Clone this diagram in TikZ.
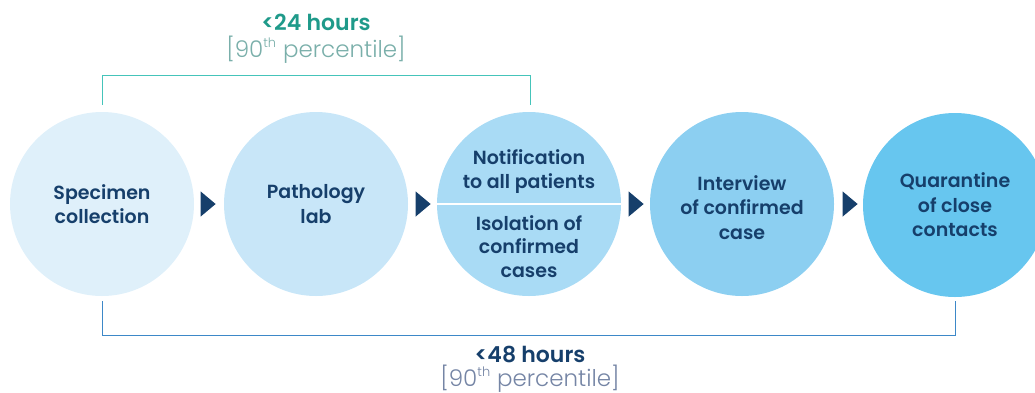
\documentclass[tikz,border=0pt]{standalone}
\usepackage{fontspec}
\usetikzlibrary{shapes.geometric,calc}
\setmainfont{Poppins}
\IfFontExistsTF{Poppins Medium}{\newfontfamily\pmed{Poppins Medium}}{\newfontfamily\pmed{Poppins}}
\IfFontExistsTF{Poppins SemiBold}{\newfontfamily\pbold{Poppins SemiBold}}{\newfontfamily\pbold{Poppins}[BoldFont={* Bold}]}
\IfFontExistsTF{Poppins Light}{\newfontfamily\plight{Poppins Light}}{\newfontfamily\plight{Poppins}}
\definecolor{navy}{HTML}{163F6B}
\definecolor{cA}{HTML}{DFF0FA}
\definecolor{cB}{HTML}{C8E6F8}
\definecolor{cC}{HTML}{A9DBF5}
\definecolor{cD}{HTML}{8CCFF1}
\definecolor{cE}{HTML}{67C6EF}
\definecolor{tealline}{HTML}{45C4BA}
\definecolor{tealtext}{HTML}{1F9A8A}
\definecolor{tealgrey}{HTML}{7AAFAA}
\definecolor{blueline}{HTML}{3D88C8}
\definecolor{bluegrey}{HTML}{7585A5}
\tikzset{
  stage/.style={circle, minimum size=184pt, inner sep=0pt, draw=none, text=navy,
    font=\pbold\fontsize{19}{24.5}\selectfont, align=center},
  intext/.style={text=navy, font=\pbold\fontsize{19}{23.5}\selectfont, align=center, anchor=base},
  tri/.style={isosceles triangle, isosceles triangle apex angle=80, fill=navy, draw=none,
    minimum height=15pt, minimum width=18pt, inner sep=0pt, shape border rotate=0},
  bracket/.style={line width=1pt},
  hours/.style={font=\pbold\fontsize{22}{24}\selectfont},
  pct/.style={font=\plight\fontsize{23}{24}\selectfont},
}
\newcommand{\pth}{\textsuperscript{\fontsize{13}{13}\selectfont th}}
\begin{document}
\begin{tikzpicture}[x=1pt,y=-1pt]
\useasboundingbox (0,0) rectangle (1035,392);
\clip (0,0) rectangle (1035,392);
\node[stage, fill=cA] (c1) at (102,204) {Specimen\\collection};
\node[stage, fill=cB] (c2) at (316,204) {Pathology\\lab};
\node[stage, fill=cC] (c3) at (529,204) {};
\node[stage, fill=cD] (c4) at (742,204) {};
\node[stage, fill=cE] (c5) at (955,205) {Quarantine\\of close\\contacts};
\draw[white, line width=2pt] (c3.west) -- (c3.east);
\node[intext] (n3a) at (529,188) {Notification\\to all patients};
\node[intext] (n3b) at (529,277) {Isolation of\\confirmed\\cases};
\node[intext, font=\pbold\fontsize{19}{24.5}\selectfont] (n4) at (742,239) {Interview\\of confirmed\\case};
\node[tri] (a1) at (206.5,204) {};
\node[tri] (a2) at (421.5,204) {};
\node[tri] (a3) at (634.5,204) {};
\node[tri] (a4) at (848.5,204) {};
% top bracket
\coordinate (t1) at ($(c1.north)+(0,-7)$);
\coordinate (t3) at ($(c3.north)+(1,-7)$);
\draw[bracket, tealline] (t1) -- (t1 |- 0,75) -- (t3 |- 0,75) -- (t3);
\node[hours, text=tealtext, anchor=base] (h24) at (316,30) {<24 hours};
\node[pct, text=tealgrey, anchor=base] (p24) at (316,57) {[90\pth{} percentile]};
% bottom bracket
\coordinate (b1) at ($(c1.south)+(0,5)$);
\coordinate (b5) at ($(c5.south)+(0,4)$);
\draw[bracket, blueline] (b1) -- (b1 |- 0,335) -- (b5 |- 0,335) -- (b5);
\node[hours, text=navy, anchor=base] (h48) at (530,362) {<48 hours};
\node[pct, text=bluegrey, anchor=base] (p48) at (530,386) {[90\pth{} percentile]};
\end{tikzpicture}
\end{document}
